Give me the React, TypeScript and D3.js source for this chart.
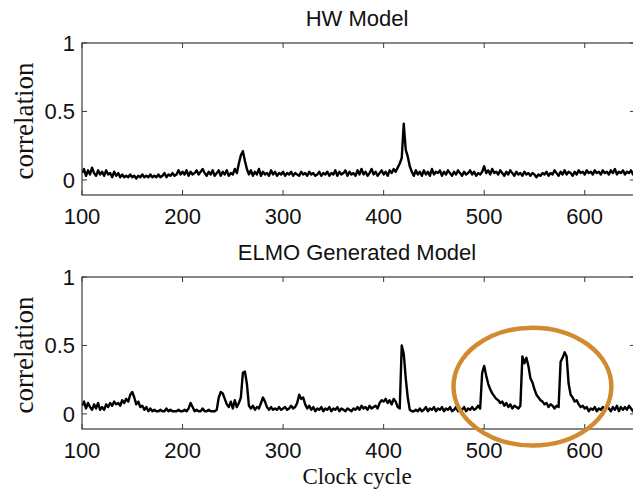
import React from "react";
import * as d3 from "d3";

// Clock cycles sampled every 2 cycles, from 100 to 650
const cycleStart = 100;
const cycleStep = 2;

const hwValues: number[] = [
  0.05, 0.08, 0.03, 0.07, 0.04, 0.09, 0.05, 0.03, 0.07, 0.04,
  0.06, 0.03, 0.07, 0.04, 0.05, 0.02, 0.06, 0.03, 0.05, 0.02,
  0.04, 0.02, 0.03, 0.02, 0.04, 0.02, 0.03, 0.01, 0.03, 0.02,
  0.04, 0.02, 0.03, 0.02, 0.04, 0.02, 0.03, 0.02, 0.04, 0.02,
  0.03, 0.05, 0.02, 0.04, 0.03, 0.05, 0.03, 0.04, 0.07, 0.04,
  0.06, 0.04, 0.07, 0.03, 0.06, 0.04, 0.05, 0.07, 0.04, 0.06,
  0.08, 0.05, 0.03, 0.06, 0.04, 0.07, 0.03, 0.05, 0.07, 0.03,
  0.06, 0.04, 0.07, 0.03, 0.05, 0.04, 0.08, 0.05, 0.12, 0.18,
  0.21, 0.14, 0.08, 0.04, 0.07, 0.03, 0.06, 0.04, 0.08, 0.03,
  0.06, 0.04, 0.05, 0.03, 0.07, 0.04, 0.06, 0.03, 0.05, 0.04,
  0.06, 0.03, 0.05, 0.04, 0.06, 0.03, 0.05, 0.04, 0.03, 0.06,
  0.04, 0.05, 0.03, 0.06, 0.04, 0.05, 0.03, 0.04, 0.06, 0.03,
  0.05, 0.04, 0.06, 0.03, 0.05, 0.04, 0.07, 0.03, 0.06, 0.04,
  0.05, 0.07, 0.03, 0.06, 0.04, 0.05, 0.03, 0.07, 0.04, 0.08,
  0.04, 0.06, 0.03, 0.05, 0.08, 0.04, 0.06, 0.03, 0.05, 0.07,
  0.04, 0.06, 0.03, 0.07, 0.05, 0.08, 0.06, 0.09, 0.12, 0.16,
  0.41, 0.22, 0.17, 0.10, 0.06, 0.03, 0.07, 0.04, 0.06, 0.03,
  0.07, 0.04, 0.06, 0.03, 0.08, 0.04, 0.06, 0.05, 0.07, 0.03,
  0.06, 0.04, 0.07, 0.05, 0.03, 0.06, 0.04, 0.07, 0.05, 0.03,
  0.06, 0.04, 0.05, 0.07, 0.04, 0.06, 0.03, 0.05, 0.04, 0.06,
  0.10, 0.05, 0.07, 0.04, 0.08, 0.05, 0.06, 0.04, 0.07, 0.05,
  0.03, 0.06, 0.04, 0.07, 0.05, 0.03, 0.06, 0.04, 0.05, 0.03,
  0.06, 0.04, 0.05, 0.03, 0.05, 0.04, 0.02, 0.04, 0.03, 0.05,
  0.04, 0.06, 0.03, 0.05, 0.04, 0.07, 0.05, 0.03, 0.06, 0.04,
  0.07, 0.04, 0.06, 0.05, 0.03, 0.06, 0.04, 0.07, 0.05, 0.06,
  0.04, 0.07, 0.05, 0.06, 0.04, 0.07, 0.05, 0.06, 0.04, 0.07,
  0.05, 0.06, 0.04, 0.07, 0.05, 0.08, 0.04, 0.06, 0.05, 0.07,
  0.04, 0.06, 0.05, 0.07, 0.04, 0.06,
];

const elmoValues: number[] = [
  0.06, 0.09, 0.04, 0.08, 0.05, 0.03, 0.07, 0.04, 0.08, 0.03,
  0.05, 0.03, 0.07, 0.05, 0.08, 0.06, 0.09, 0.07, 0.08, 0.06,
  0.10, 0.08, 0.11, 0.09, 0.14, 0.16, 0.12, 0.07, 0.09, 0.05,
  0.06, 0.03, 0.05, 0.02, 0.04, 0.02, 0.03, 0.02, 0.02, 0.03,
  0.02, 0.02, 0.04, 0.02, 0.03, 0.02, 0.02, 0.02, 0.03, 0.02,
  0.02, 0.03, 0.02, 0.04, 0.08, 0.05, 0.02, 0.03, 0.02, 0.02,
  0.04, 0.02, 0.02, 0.03, 0.02, 0.02, 0.02, 0.03, 0.12, 0.16,
  0.15, 0.11, 0.07, 0.05, 0.09, 0.04, 0.10, 0.05, 0.08, 0.12,
  0.30, 0.31, 0.22, 0.06, 0.04, 0.06, 0.03, 0.05, 0.04, 0.08,
  0.12, 0.09, 0.05, 0.03, 0.05, 0.03, 0.04, 0.03, 0.05, 0.03,
  0.04, 0.05, 0.03, 0.04, 0.06, 0.04, 0.05, 0.08, 0.14, 0.11,
  0.12, 0.07, 0.04, 0.06, 0.03, 0.05, 0.02, 0.04, 0.03, 0.05,
  0.02, 0.04, 0.03, 0.05, 0.02, 0.04, 0.03, 0.05, 0.02, 0.04,
  0.03, 0.02, 0.04, 0.03, 0.02, 0.04, 0.03, 0.05, 0.03, 0.06,
  0.04, 0.05, 0.03, 0.06, 0.04, 0.05, 0.06, 0.04, 0.08, 0.10,
  0.09, 0.11, 0.08, 0.10, 0.07, 0.11, 0.09, 0.05, 0.04, 0.50,
  0.44, 0.26, 0.12, 0.03, 0.02, 0.02, 0.03, 0.02, 0.04, 0.02,
  0.03, 0.05, 0.02, 0.04, 0.03, 0.05, 0.02, 0.04, 0.03, 0.05,
  0.02, 0.04, 0.03, 0.05, 0.02, 0.03, 0.05, 0.02, 0.04, 0.03,
  0.05, 0.02, 0.04, 0.03, 0.05, 0.03, 0.04, 0.06, 0.04, 0.30,
  0.35, 0.28, 0.22, 0.18, 0.15, 0.13, 0.11, 0.10, 0.08, 0.09,
  0.06, 0.08, 0.05, 0.07, 0.04, 0.06, 0.05, 0.04, 0.06, 0.42,
  0.37, 0.41, 0.35, 0.26, 0.23, 0.18, 0.14, 0.12, 0.10, 0.09,
  0.07, 0.08, 0.05, 0.07, 0.06, 0.04, 0.06, 0.05, 0.38, 0.41,
  0.45, 0.42, 0.22, 0.14, 0.12, 0.09, 0.10, 0.07, 0.05, 0.06,
  0.04, 0.05, 0.02, 0.04, 0.03, 0.05, 0.02, 0.04, 0.03, 0.05,
  0.03, 0.06, 0.04, 0.02, 0.05, 0.03, 0.06, 0.02, 0.05, 0.03,
  0.05, 0.03, 0.06, 0.04, 0.02, 0.05,
];

const xTicks = [100, 200, 300, 400, 500, 600];
const yTicks = [0, 0.5, 1];
const yTickLabels = ["0", "0.5", "1"];
const panelTitles = ["HW Model", "ELMO Generated Model"];
const xDomain: [number, number] = [100, 650];
const yDomain: [number, number] = [-0.11, 1];
// highlight ellipse in data coordinates of the ELMO panel
const highlight = { cx: 548, cy: 0.2, rxCycles: 78.5, ryCorr: 0.43 };

const W = 633;
const H = 491;
const left = 82;
const right = 635;
const panels = [
  { top: 43, bottom: 195, values: hwValues },
  { top: 277, bottom: 429, values: elmoValues },
];

const sans = "'Liberation Sans', Arial, Helvetica, sans-serif";
const serif = "'Liberation Serif', 'Times New Roman', serif";

function Panel({ idx }: { idx: number }) {
  const p = panels[idx];
  const x = d3.scaleLinear().domain(xDomain).range([left, right]);
  const y = d3.scaleLinear().domain(yDomain).range([p.bottom, p.top]);
  const pts: [number, number][] = p.values.map((v, i) => [cycleStart + i * cycleStep, v]);
  const line = d3
    .line<[number, number]>()
    .x((d) => x(d[0]))
    .y((d) => y(d[1]));
  const clipId = `clip${idx}`;
  const frame = "#3a3a3a";
  const tl = 5;
  return (
    <g>
      <defs>
        <clipPath id={clipId}>
          <rect x={left} y={p.top} width={right - left} height={p.bottom - p.top} />
        </clipPath>
      </defs>
      <text x={357} y={p.top - 17} fontFamily={sans} fontSize={22} textAnchor="middle" fill="#111">
        {panelTitles[idx]}
      </text>
      <path d={line(pts) || ""} fill="none" stroke="#000" strokeWidth={2.4} strokeLinejoin="round" clipPath={`url(#${clipId})`} />
      <rect x={left} y={p.top} width={right - left} height={p.bottom - p.top} fill="none" stroke={frame} strokeWidth={1.2} />
      {xTicks.map((t) => (
        <g key={t}>
          <line x1={x(t)} x2={x(t)} y1={p.bottom} y2={p.bottom - tl} stroke={frame} strokeWidth={1} />
          <line x1={x(t)} x2={x(t)} y1={p.top} y2={p.top + tl} stroke={frame} strokeWidth={1} />
          <text x={x(t)} y={p.bottom + 29} fontFamily={sans} fontSize={22} textAnchor="middle" fill="#111">
            {t}
          </text>
        </g>
      ))}
      {yTicks.map((t, i) => (
        <g key={t}>
          <line x1={left} x2={left + tl} y1={y(t)} y2={y(t)} stroke={frame} strokeWidth={1} />
          <line x1={right} x2={right - tl} y1={y(t)} y2={y(t)} stroke={frame} strokeWidth={1} />
          <text x={75} y={y(t) + 8} fontFamily={sans} fontSize={22} textAnchor="end" fill="#111">
            {yTickLabels[i]}
          </text>
        </g>
      ))}
      <text
        transform={`translate(33, ${(p.top + p.bottom) / 2 + 2}) rotate(-90)`}
        fontFamily={serif}
        fontSize={27}
        textAnchor="middle"
        fill="#111"
      >
        correlation
      </text>
      {idx === 1 && (
        <ellipse
          cx={x(highlight.cx)}
          cy={y(highlight.cy)}
          rx={x(highlight.cx + highlight.rxCycles) - x(highlight.cx)}
          ry={y(0) - y(highlight.ryCorr)}
          fill="none"
          stroke="#D18A2F"
          strokeWidth={4.5}
        />
      )}
    </g>
  );
}

export default function App() {
  return (
    <svg
      width={W}
      height={H}
      viewBox={`0 0 ${W} ${H}`}
      style={{ position: "absolute", left: 0, top: 0, background: "#fff" }}
    >
      <rect x={0} y={0} width={W} height={H} fill="#fff" />
      <Panel idx={0} />
      <Panel idx={1} />
      <text x={357} y={484} fontFamily={serif} fontSize={23} textAnchor="middle" fill="#111">
        Clock cycle
      </text>
    </svg>
  );
}
